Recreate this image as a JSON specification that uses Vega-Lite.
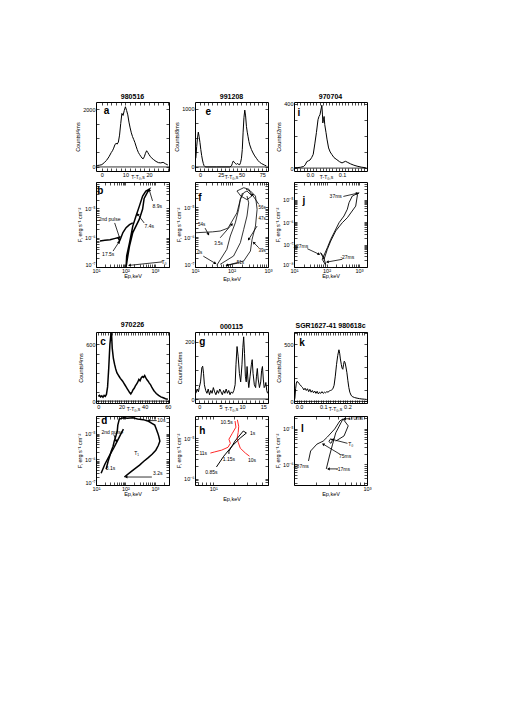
{
"$schema": "https://vega.github.io/schema/vega-lite/v6.json",
"background": "white",
"padding": {"left": 75, "top": 92, "right": 0, "bottom": 0},
"columns": 3,
"spacing": {"row": 0, "column": 26},
"bounds": "flush",
"config": {
  "font": "Liberation Sans",
  "view": {"stroke": "black", "strokeWidth": 1},
  "axis": {"grid": false, "domain": false, "tickSize": -3, "tickColor": "black", "tickWidth": 0.7, "labelPadding": 4, "labelFontSize": 5.5, "labelColor": "black", "labelFont": "Liberation Sans", "titleFont": "Liberation Sans", "titleFontSize": 5.5, "titleFontWeight": "normal", "titleColor": "black", "titlePadding": 2, "labelFlush": false, "labelOverlap": false},
  "title": {"fontSize": 7, "fontWeight": "bold", "offset": 2, "font": "Liberation Sans", "color": "black"},
  "text": {"font": "Liberation Sans", "color": "black"}
},
"datasets": {
  "a": [{"t":-2,"c":50},{"t":-1,"c":60},{"t":0,"c":80},{"t":1,"c":150},{"t":2,"c":230},{"t":3,"c":350},{"t":4,"c":500},{"t":4.5,"c":560},{"t":5,"c":650},{"t":5.5,"c":760},{"t":6,"c":820},{"t":6.5,"c":790},{"t":7,"c":860},{"t":7.5,"c":1100},{"t":8,"c":1500},{"t":8.5,"c":1850},{"t":9,"c":1780},{"t":9.5,"c":1950},{"t":10,"c":2080},{"t":10.5,"c":1950},{"t":11,"c":1800},{"t":11.5,"c":1550},{"t":12,"c":1350},{"t":12.5,"c":1180},{"t":13,"c":1050},{"t":13.5,"c":950},{"t":14,"c":850},{"t":14.5,"c":720},{"t":15,"c":600},{"t":15.5,"c":500},{"t":16,"c":430},{"t":16.5,"c":370},{"t":17,"c":310},{"t":17.5,"c":280},{"t":18,"c":350},{"t":18.5,"c":470},{"t":19,"c":560},{"t":19.5,"c":500},{"t":20,"c":430},{"t":20.5,"c":370},{"t":21,"c":320},{"t":22,"c":250},{"t":23,"c":190},{"t":24,"c":150},{"t":25,"c":140},{"t":26,"c":160},{"t":27,"c":110},{"t":28,"c":70}],
  "e": [{"t":-5,"c":150},{"t":-4,"c":350},{"t":-3,"c":500},{"t":-2,"c":600},{"t":-1,"c":520},{"t":0,"c":420},{"t":1,"c":300},{"t":2,"c":200},{"t":3,"c":120},{"t":4,"c":60},{"t":5,"c":20},{"t":6,"c":5},{"t":7,"c":0},{"t":20,"c":0},{"t":36,"c":0},{"t":38,"c":20},{"t":39,"c":60},{"t":40,"c":100},{"t":41,"c":90},{"t":42,"c":70},{"t":43,"c":55},{"t":44,"c":45},{"t":45,"c":60},{"t":46,"c":50},{"t":47,"c":40},{"t":48,"c":40},{"t":49,"c":80},{"t":50,"c":150},{"t":51,"c":300},{"t":52,"c":600},{"t":53,"c":850},{"t":54,"c":980},{"t":55,"c":880},{"t":56,"c":700},{"t":57,"c":600},{"t":58,"c":520},{"t":59,"c":440},{"t":60,"c":380},{"t":62,"c":300},{"t":64,"c":240},{"t":66,"c":190},{"t":68,"c":150},{"t":70,"c":110},{"t":72,"c":80},{"t":74,"c":60},{"t":76,"c":45},{"t":78,"c":30},{"t":80,"c":20}],
  "i": [{"t":-0.05,"c":2},{"t":-0.04,"c":3},{"t":-0.03,"c":5},{"t":-0.02,"c":10},{"t":-0.015,"c":20},{"t":-0.01,"c":40},{"t":-0.005,"c":45},{"t":0,"c":50},{"t":0.005,"c":65},{"t":0.01,"c":85},{"t":0.015,"c":150},{"t":0.02,"c":220},{"t":0.025,"c":300},{"t":0.028,"c":320},{"t":0.031,"c":330},{"t":0.034,"c":360},{"t":0.037,"c":390},{"t":0.039,"c":330},{"t":0.04,"c":280},{"t":0.042,"c":300},{"t":0.044,"c":320},{"t":0.046,"c":270},{"t":0.05,"c":220},{"t":0.053,"c":180},{"t":0.058,"c":125},{"t":0.063,"c":100},{"t":0.068,"c":85},{"t":0.075,"c":65},{"t":0.084,"c":52},{"t":0.092,"c":40},{"t":0.1,"c":32},{"t":0.106,"c":38},{"t":0.111,"c":42},{"t":0.118,"c":35},{"t":0.127,"c":26},{"t":0.137,"c":18},{"t":0.147,"c":12},{"t":0.16,"c":6},{"t":0.174,"c":2}],
  "c": [{"t":0,"c":50},{"t":1,"c":60},{"t":2,"c":45},{"t":3,"c":55},{"t":4,"c":40},{"t":5,"c":60},{"t":6,"c":50},{"t":7,"c":70},{"t":8,"c":150},{"t":9,"c":350},{"t":10,"c":600},{"t":11,"c":720},{"t":11.5,"c":690},{"t":12,"c":560},{"t":13,"c":450},{"t":14,"c":390},{"t":15,"c":340},{"t":16,"c":300},{"t":17,"c":280},{"t":18,"c":260},{"t":19,"c":240},{"t":20,"c":225},{"t":21,"c":210},{"t":22,"c":190},{"t":23,"c":170},{"t":24,"c":150},{"t":25,"c":130},{"t":26,"c":110},{"t":27,"c":90},{"t":28,"c":75},{"t":29,"c":95},{"t":30,"c":120},{"t":31,"c":135},{"t":32,"c":160},{"t":33,"c":180},{"t":34,"c":200},{"t":35,"c":230},{"t":36,"c":215},{"t":37,"c":245},{"t":38,"c":260},{"t":39,"c":250},{"t":40,"c":270},{"t":41,"c":245},{"t":42,"c":225},{"t":43,"c":210},{"t":44,"c":190},{"t":45,"c":175},{"t":46,"c":150},{"t":47,"c":130},{"t":48,"c":110},{"t":49,"c":95},{"t":50,"c":80},{"t":52,"c":60},{"t":54,"c":45},{"t":56,"c":35},{"t":58,"c":25},{"t":60,"c":20}],
  "g": [{"t":-0.8,"c":20},{"t":-0.5,"c":35},{"t":-0.2,"c":25},{"t":0,"c":40},{"t":0.3,"c":60},{"t":0.6,"c":110},{"t":0.8,"c":115},{"t":1,"c":90},{"t":1.2,"c":50},{"t":1.5,"c":30},{"t":1.8,"c":20},{"t":2.1,"c":35},{"t":2.4,"c":15},{"t":2.7,"c":30},{"t":3,"c":20},{"t":3.3,"c":40},{"t":3.6,"c":25},{"t":3.9,"c":15},{"t":4.2,"c":30},{"t":4.5,"c":20},{"t":4.8,"c":35},{"t":5.1,"c":25},{"t":5.4,"c":15},{"t":5.7,"c":30},{"t":6,"c":20},{"t":6.3,"c":35},{"t":6.6,"c":20},{"t":6.9,"c":30},{"t":7.2,"c":15},{"t":7.5,"c":25},{"t":7.8,"c":20},{"t":8.1,"c":30},{"t":8.4,"c":50},{"t":8.6,"c":120},{"t":8.85,"c":184},{"t":9.1,"c":150},{"t":9.4,"c":90},{"t":9.7,"c":60},{"t":10,"c":120},{"t":10.2,"c":180},{"t":10.4,"c":218},{"t":10.6,"c":160},{"t":10.8,"c":80},{"t":11,"c":60},{"t":11.2,"c":114},{"t":11.4,"c":70},{"t":11.6,"c":40},{"t":11.9,"c":80},{"t":12.2,"c":120},{"t":12.4,"c":138},{"t":12.6,"c":90},{"t":12.9,"c":50},{"t":13.2,"c":40},{"t":13.4,"c":80},{"t":13.6,"c":107},{"t":13.8,"c":70},{"t":14.1,"c":40},{"t":14.4,"c":60},{"t":14.6,"c":100},{"t":14.8,"c":114},{"t":15,"c":70},{"t":15.2,"c":40},{"t":15.4,"c":45},{"t":15.6,"c":58},{"t":15.8,"c":30},{"t":16,"c":20}],
  "k": [{"t":-0.02,"c":0},{"t":-0.017,"c":30},{"t":-0.014,"c":110},{"t":-0.011,"c":160},{"t":-0.008,"c":175},{"t":-0.005,"c":170},{"t":0,"c":155},{"t":0.005,"c":145},{"t":0.01,"c":130},{"t":0.015,"c":120},{"t":0.02,"c":100},{"t":0.025,"c":115},{"t":0.03,"c":95},{"t":0.035,"c":110},{"t":0.04,"c":85},{"t":0.045,"c":105},{"t":0.05,"c":80},{"t":0.055,"c":95},{"t":0.06,"c":75},{"t":0.065,"c":90},{"t":0.07,"c":70},{"t":0.075,"c":88},{"t":0.08,"c":65},{"t":0.085,"c":80},{"t":0.09,"c":70},{"t":0.095,"c":85},{"t":0.1,"c":70},{"t":0.105,"c":80},{"t":0.11,"c":75},{"t":0.115,"c":85},{"t":0.12,"c":80},{"t":0.125,"c":90},{"t":0.13,"c":95},{"t":0.135,"c":100},{"t":0.14,"c":110},{"t":0.145,"c":140},{"t":0.15,"c":220},{"t":0.155,"c":320},{"t":0.16,"c":400},{"t":0.165,"c":450},{"t":0.168,"c":420},{"t":0.171,"c":370},{"t":0.175,"c":320},{"t":0.178,"c":290},{"t":0.181,"c":280},{"t":0.184,"c":320},{"t":0.187,"c":350},{"t":0.19,"c":340},{"t":0.194,"c":300},{"t":0.198,"c":250},{"t":0.202,"c":180},{"t":0.206,"c":120},{"t":0.21,"c":80},{"t":0.215,"c":55},{"t":0.22,"c":42},{"t":0.23,"c":33},{"t":0.24,"c":28},{"t":0.25,"c":24},{"t":0.26,"c":21},{"t":0.27,"c":19},{"t":0.28,"c":17}],
  "bL": [{"seg":"m","o":1,"ep":105,"f":1.0e-7},{"seg":"m","o":2,"ep":110,"f":2.4e-7},{"seg":"m","o":3,"ep":137,"f":6.7e-7},{"seg":"m","o":4,"ep":177,"f":2.5e-6},{"seg":"m","o":5,"ep":228,"f":5.5e-6},{"seg":"m","o":6,"ep":296,"f":1.2e-5},{"seg":"m","o":7,"ep":382,"f":2.65e-5},{"seg":"m","o":8,"ep":492,"f":3.9e-5},{"seg":"m","o":9,"ep":640,"f":4.5e-5},{"seg":"m","o":10,"ep":560,"f":3.6e-5},{"seg":"m","o":11,"ep":430,"f":2.2e-5},{"seg":"m","o":12,"ep":382,"f":9.5e-6},{"seg":"m","o":13,"ep":296,"f":4.3e-6},{"seg":"m","o":14,"ep":177,"f":1.5e-6},{"seg":"m","o":15,"ep":137,"f":5.2e-7},{"seg":"m","o":16,"ep":115,"f":1.83e-7},{"seg":"m","o":17,"ep":105,"f":1.0e-7},{"seg":"p","o":1,"ep":13.6,"f":7.7e-7},{"seg":"p","o":2,"ep":20,"f":8.2e-7},{"seg":"p","o":3,"ep":30,"f":8.6e-7},{"seg":"p","o":4,"ep":45,"f":9.5e-7},{"seg":"p","o":5,"ep":56,"f":1.0e-6},{"seg":"p","o":6,"ep":63,"f":8.0e-7},{"seg":"p","o":7,"ep":58,"f":6.5e-7},{"seg":"p","o":8,"ep":66,"f":8.5e-7},{"seg":"p","o":9,"ep":82,"f":1.5e-6},{"seg":"p","o":10,"ep":105,"f":2.2e-6},{"seg":"p","o":11,"ep":137,"f":2.8e-6},{"seg":"p","o":12,"ep":177,"f":3.2e-6}],
  "bN": [{"label":"8.9s","ep":1200,"f":1.2e-5},{"label":"7.4s","ep":640,"f":2.5e-6},{"label":"2nd pulse","ep":29,"f":4.4e-6},{"label":"17.5s","ep":26,"f":2.7e-7},{"label":"T₀","ep":2030,"f":1.5e-7}],
  "bA": [{"ep":830,"f":1.8e-5,"ep2":640,"f2":4.3e-5},{"ep":430,"f":3.2e-6,"ep2":260,"f2":6.3e-6},{"ep":43,"f":3.2e-6,"ep2":63,"f2":1.0e-6},{"ep":38,"f":3.5e-7,"ep2":60,"f2":7.1e-7},{"ep":1800,"f":1.5e-7,"ep2":137,"f2":1.14e-7}],
  "fL": [{"seg":"A","o":1,"ep":10,"f":1.4e-6},{"seg":"A","o":2,"ep":30,"f":1.5e-6},{"seg":"A","o":3,"ep":49,"f":1.6e-6},{"seg":"A","o":4,"ep":80,"f":2.0e-6},{"seg":"A","o":5,"ep":141,"f":6.5e-6},{"seg":"A","o":6,"ep":175,"f":1.84e-5},{"seg":"A","o":7,"ep":216,"f":3.06e-5},{"seg":"A","o":8,"ep":266,"f":3.5e-5},{"seg":"A","o":9,"ep":366,"f":2.37e-5},{"seg":"B","o":1,"ep":39.5,"f":1.14e-7},{"seg":"B","o":2,"ep":74.6,"f":3.9e-7},{"seg":"B","o":3,"ep":92.7,"f":1.09e-6},{"seg":"B","o":4,"ep":127,"f":3.0e-6},{"seg":"B","o":5,"ep":157,"f":8.5e-6},{"seg":"B","o":6,"ep":175,"f":1.84e-5},{"seg":"B","o":7,"ep":200,"f":3.0e-5},{"seg":"C","o":1,"ep":49,"f":1.23e-7},{"seg":"C","o":2,"ep":114,"f":2.33e-7},{"seg":"C","o":3,"ep":175,"f":6.5e-7},{"seg":"C","o":4,"ep":216,"f":1.82e-6},{"seg":"C","o":5,"ep":266,"f":5.1e-6},{"seg":"C","o":6,"ep":296,"f":1.41e-5},{"seg":"C","o":7,"ep":266,"f":2.37e-5},{"seg":"D","o":1,"ep":74.6,"f":1.14e-7},{"seg":"D","o":2,"ep":216,"f":1.59e-7},{"seg":"D","o":3,"ep":330,"f":3.43e-7},{"seg":"D","o":4,"ep":366,"f":8.4e-7},{"seg":"D","o":5,"ep":454,"f":2.35e-6},{"seg":"D","o":6,"ep":503,"f":8.5e-6},{"seg":"D","o":7,"ep":454,"f":2.37e-5},{"seg":"D","o":8,"ep":330,"f":3.5e-5},{"seg":"D","o":9,"ep":250,"f":4.0e-5},{"seg":"L","o":1,"ep":141,"f":3.5e-5},{"seg":"L","o":2,"ep":216,"f":4.5e-5},{"seg":"L","o":3,"ep":300,"f":4.0e-5},{"seg":"L","o":4,"ep":360,"f":2.37e-5},{"seg":"L","o":5,"ep":266,"f":1.8e-5},{"seg":"L","o":6,"ep":180,"f":2.37e-5},{"seg":"L","o":7,"ep":141,"f":3.5e-5}],
  "fN": [{"label":"54s","ep":15.2,"f":2.5e-6},{"label":"3.5s","ep":44,"f":5.7e-7},{"label":"0s","ep":13.7,"f":3.0e-7},{"label":"51s","ep":175,"f":1.33e-7},{"label":"56s","ep":692,"f":9.6e-6},{"label":"47s","ep":692,"f":3.9e-6},{"label":"39s","ep":692,"f":3.43e-7}],
  "fA": [{"ep":18.9,"f":2.0e-6,"ep2":23.3,"f2":1.25e-6},{"ep":49,"f":9.5e-7,"ep2":103,"f2":2.7e-6},{"ep":16.9,"f":2.3e-7,"ep2":35.7,"f2":1.33e-7},{"ep":141,"f":1.33e-7,"ep2":74.6,"f2":1.14e-7},{"ep":560,"f":1.25e-5,"ep2":366,"f2":2.7e-5},{"ep":503,"f":2.35e-6,"ep2":296,"f2":8.4e-7},{"ep":560,"f":4.4e-7,"ep2":408,"f2":6.5e-7}],
  "jL": [{"seg":"m","o":1,"ep":94.5,"f":1.19e-8},{"seg":"m","o":2,"ep":74,"f":2.2e-8},{"seg":"m","o":3,"ep":106,"f":7.2e-8},{"seg":"m","o":4,"ep":135,"f":1.7e-7},{"seg":"m","o":5,"ep":170,"f":3.3e-7},{"seg":"m","o":6,"ep":243,"f":9.3e-7},{"seg":"m","o":7,"ep":345,"f":1.85e-6},{"seg":"m","o":8,"ep":437,"f":3.7e-6},{"seg":"m","o":9,"ep":492,"f":7.2e-6},{"seg":"m","o":10,"ep":622,"f":1.43e-5},{"seg":"m","o":11,"ep":1000,"f":2.0e-5},{"seg":"m","o":12,"ep":900,"f":1.7e-5},{"seg":"m","o":13,"ep":791,"f":5.1e-6},{"seg":"m","o":14,"ep":437,"f":1.55e-6},{"seg":"m","o":15,"ep":306,"f":9.3e-7},{"seg":"m","o":16,"ep":192,"f":4.0e-7},{"seg":"m","o":17,"ep":135,"f":1.43e-7},{"seg":"m","o":18,"ep":106,"f":6.1e-8},{"seg":"m","o":19,"ep":84,"f":2.2e-8},{"seg":"m","o":20,"ep":66,"f":4.3e-8},{"seg":"m","o":21,"ep":80,"f":3.0e-8},{"seg":"m","o":22,"ep":94.5,"f":1.32e-8}],
  "jN": [{"label":"37ms","ep":192,"f":1.43e-5},{"label":"127ms","ep":16,"f":8.5e-8},{"label":"-27ms","ep":437,"f":2.8e-8}],
  "jA": [{"ep":330,"f":1.37e-5,"ep2":885,"f2":1.9e-5},{"ep":25.7,"f":6.5e-8,"ep2":58.8,"f2":3.7e-8},{"ep":306,"f":2.2e-8,"ep2":106,"f2":1.67e-8}],
  "dL": [{"seg":"m","o":1,"ep":22.1,"f":4.2e-7},{"seg":"m","o":2,"ep":25.9,"f":8.7e-7},{"seg":"m","o":3,"ep":29,"f":1.3e-6},{"seg":"m","o":4,"ep":32.8,"f":2.1e-6},{"seg":"m","o":5,"ep":38,"f":3.3e-6},{"seg":"m","o":6,"ep":41.6,"f":5.2e-6},{"seg":"m","o":7,"ep":47,"f":8.0e-6},{"seg":"m","o":8,"ep":52.7,"f":1.29e-5},{"seg":"m","o":9,"ep":55,"f":2.2e-5},{"seg":"m","o":10,"ep":61.8,"f":3.8e-5},{"seg":"m","o":11,"ep":85,"f":4.3e-5},{"seg":"m","o":12,"ep":116,"f":4.1e-5},{"seg":"m","o":13,"ep":180,"f":4.3e-5},{"seg":"m","o":14,"ep":257,"f":3.8e-5},{"seg":"m","o":15,"ep":400,"f":3.6e-5},{"seg":"m","o":16,"ep":568,"f":3.2e-5},{"seg":"m","o":17,"ep":988,"f":2.2e-5},{"seg":"m","o":18,"ep":1100,"f":1.6e-5},{"seg":"m","o":19,"ep":1250,"f":1.07e-5},{"seg":"m","o":20,"ep":1350,"f":8.0e-6},{"seg":"m","o":21,"ep":1470,"f":5.2e-6},{"seg":"m","o":22,"ep":1300,"f":3.5e-6},{"seg":"m","o":23,"ep":1070,"f":2.3e-6},{"seg":"m","o":24,"ep":800,"f":1.6e-6},{"seg":"m","o":25,"ep":568,"f":1.13e-6},{"seg":"m","o":26,"ep":420,"f":8.5e-7},{"seg":"m","o":27,"ep":301,"f":6.0e-7},{"seg":"m","o":28,"ep":200,"f":4.2e-7},{"seg":"m","o":29,"ep":148,"f":3.2e-7},{"seg":"m","o":30,"ep":91.8,"f":2.05e-7},{"seg":"p","o":1,"ep":14.9,"f":2.9e-7},{"seg":"p","o":2,"ep":20,"f":6.5e-7},{"seg":"p","o":3,"ep":28,"f":1.36e-6},{"seg":"p","o":4,"ep":40,"f":2.8e-6},{"seg":"p","o":5,"ep":52.7,"f":5.2e-6},{"seg":"p","o":6,"ep":70,"f":1.0e-5},{"seg":"p","o":7,"ep":85,"f":1.54e-5}],
  "dN": [{"label":"10s","ep":1650,"f":3.4e-5},{"label":"2nd pulse","ep":36,"f":1.15e-5},{"label":"3.1s","ep":31,"f":4.6e-7},{"label":"3.2s","ep":1250,"f":3.0e-7},{"label":"T₁","ep":238,"f":1.78e-6}],
  "dA": [{"ep":1150,"f":3.3e-5,"ep2":620,"f2":3.3e-5},{"ep":40,"f":9.5e-6,"ep2":49,"f2":5.2e-6},{"ep":786,"f":2.05e-7,"ep2":105,"f2":2.05e-7}],
  "hL": [{"seg":"r1","o":1,"ep":20.4,"f":2.7e-5},{"seg":"r1","o":2,"ep":21,"f":1.9e-5},{"seg":"r1","o":3,"ep":18.5,"f":1.3e-5},{"seg":"r1","o":4,"ep":16.7,"f":9.5e-6},{"seg":"r1","o":5,"ep":17.5,"f":7.5e-6},{"seg":"r1","o":6,"ep":16.2,"f":6.0e-6},{"seg":"r1","o":7,"ep":13.2,"f":5.1e-6},{"seg":"r1","o":8,"ep":10.5,"f":4.6e-6},{"seg":"r1","o":9,"ep":9.1,"f":4.3e-6},{"seg":"r2","o":1,"ep":22,"f":2.9e-5},{"seg":"r2","o":2,"ep":23,"f":2.0e-5},{"seg":"r2","o":3,"ep":22.6,"f":1.4e-5},{"seg":"r2","o":4,"ep":21.8,"f":1.0e-5},{"seg":"r2","o":5,"ep":22.6,"f":8.0e-6},{"seg":"r2","o":6,"ep":24.2,"f":5.7e-6},{"seg":"r2","o":7,"ep":28.6,"f":4.3e-6},{"seg":"r2","o":8,"ep":32.7,"f":3.6e-6},{"seg":"k","o":1,"ep":11.1,"f":1.94e-6},{"seg":"k","o":2,"ep":14.1,"f":3.6e-6},{"seg":"k","o":3,"ep":18.5,"f":6.4e-6},{"seg":"k","o":4,"ep":24.2,"f":1.02e-5},{"seg":"k","o":5,"ep":29.6,"f":1.36e-5},{"seg":"k","o":6,"ep":26.7,"f":1.52e-5},{"seg":"k","o":7,"ep":20.4,"f":8.6e-6},{"seg":"k","o":8,"ep":16.7,"f":4.8e-6},{"seg":"k","o":9,"ep":16.7,"f":4.1e-6}],
  "hN": [{"label":"10.5s","ep":15.5,"f":2.5e-5},{"label":"1s","ep":36.2,"f":1.36e-5},{"label":"11s","ep":7.2,"f":4.3e-6},{"label":"10s","ep":35.5,"f":2.9e-6},{"label":"1.15s","ep":16.7,"f":3.0e-6},{"label":"0.85s","ep":9.4,"f":1.45e-6}],
  "lL": [{"seg":"a","o":1,"ep":158,"f":1.24e-6},{"seg":"a","o":2,"ep":169,"f":2.37e-6},{"seg":"a","o":3,"ep":206,"f":3.7e-6},{"seg":"a","o":4,"ep":251,"f":4.5e-6},{"seg":"a","o":5,"ep":287,"f":5.9e-6},{"seg":"a","o":6,"ep":361,"f":9.9e-6},{"seg":"a","o":7,"ep":425,"f":1.67e-5},{"seg":"a","o":8,"ep":469,"f":1.9e-5},{"seg":"a","o":9,"ep":553,"f":1.21e-5},{"seg":"a","o":10,"ep":485,"f":6.3e-6},{"seg":"a","o":11,"ep":373,"f":4.5e-6},{"seg":"b","o":1,"ep":277,"f":7.4e-7},{"seg":"b","o":2,"ep":306,"f":1.71e-6},{"seg":"b","o":3,"ep":338,"f":3.7e-6},{"seg":"b","o":4,"ep":373,"f":7.7e-6},{"seg":"b","o":5,"ep":439,"f":1.47e-5},{"seg":"b","o":6,"ep":469,"f":1.9e-5},{"seg":"c","o":1,"ep":300,"f":4.4e-6},{"seg":"c","o":2,"ep":320,"f":5.3e-6},{"seg":"c","o":3,"ep":335,"f":4.6e-6},{"seg":"c","o":4,"ep":320,"f":3.9e-6},{"seg":"c","o":5,"ep":300,"f":4.4e-6}],
  "lN": [{"label":"170ms","ep":696,"f":2.03e-5},{"label":"T₀","ep":600,"f":3.7e-6},{"label":"75ms","ep":501,"f":1.71e-6},{"label":"287ms","ep":126,"f":9.0e-7},{"label":"-17ms","ep":469,"f":7.4e-7}],
  "lA": [{"ep":590,"f":1.95e-5,"ep2":490,"f2":1.9e-5},{"ep":540,"f":3.9e-6,"ep2":338,"f2":5.0e-6},{"ep":430,"f":1.9e-6,"ep2":251,"f2":3.7e-6},{"ep":400,"f":7.4e-7,"ep2":296,"f2":7.4e-7}]
},
"concat": [
 {"width": 73, "height": 69, "title": "980516",
  "layer": [
   {"data": {"name": "a"}, "mark": {"type": "line", "color": "black", "strokeWidth": 1, "clip": true},
    "encoding": {
     "x": {"field": "t", "type": "quantitative", "scale": {"domain": [-2.5, 28.5], "nice": false, "zero": false}, "axis": {"values": [0,2,4,6,8,10,12,14,16,18,20,22,24,26,28], "labelExpr": "datum.value%10==0?datum.label:''", "title": "T-T₀,s", "titleY": 3, "titleX": 41.5, "titleFontSize": 5, "titleBaseline": "top"}},
     "y": {"field": "c", "type": "quantitative", "scale": {"domain": [-140, 2245], "nice": false, "zero": false}, "axis": {"values": [0,500,1000,1500,2000], "labelExpr": "datum.value==0||datum.value==2000?format(datum.value,'d'):''", "title": "Counts/4ms"}}}},
   {"data": {"name": "a"}, "mark": {"type": "point", "opacity": 0},
    "encoding": {
     "x": {"field": "t", "type": "quantitative", "axis": {"orient": "top", "labels": false, "title": null, "values": [0,2,4,6,8,10,12,14,16,18,20,22,24,26,28]}},
     "y": {"field": "c", "type": "quantitative", "axis": {"orient": "right", "labels": false, "title": null, "values": [0,500,1000,1500,2000]}}}},
   {"data": {"values": [{}]}, "mark": {"type": "rule", "color": "black", "strokeWidth": 0.8}, "encoding": {"y": {"datum": 0, "axis": null}}},
   {"data": {"values": [{}]}, "mark": {"type": "text", "fontSize": 10, "fontWeight": "bold"}, "encoding": {"x": {"datum": 2, "axis": null}, "y": {"datum": 1950, "axis": null}, "text": {"value": "a"}}}
  ],
  "resolve": {"axis": {"x": "independent", "y": "independent"}}},
 {"width": 73, "height": 69, "title": "991208",
  "layer": [
   {"data": {"name": "e"}, "mark": {"type": "line", "color": "black", "strokeWidth": 1, "clip": true},
    "encoding": {
     "x": {"field": "t", "type": "quantitative", "scale": {"domain": [-6, 82], "nice": false, "zero": false}, "axis": {"values": [0,5,10,15,20,25,30,35,40,45,50,55,60,65,70,75,80], "labelExpr": "datum.value%25==0?datum.label:''", "title": "T-T₀,s", "titleY": 3, "titleX": 36, "titleFontSize": 5, "titleBaseline": "top"}},
     "y": {"field": "c", "type": "quantitative", "scale": {"domain": [-70, 1120], "nice": false, "zero": false}, "axis": {"values": [0,250,500,750,1000], "labelExpr": "datum.value==0||datum.value==1000?format(datum.value,'d'):''", "title": "Counts/8ms"}}}},
   {"data": {"name": "e"}, "mark": {"type": "point", "opacity": 0},
    "encoding": {
     "x": {"field": "t", "type": "quantitative", "axis": {"orient": "top", "labels": false, "title": null, "values": [0,5,10,15,20,25,30,35,40,45,50,55,60,65,70,75,80]}},
     "y": {"field": "c", "type": "quantitative", "axis": {"orient": "right", "labels": false, "title": null, "values": [0,250,500,750,1000]}}}},
   {"data": {"values": [{}]}, "mark": {"type": "rule", "color": "black", "strokeWidth": 0.8}, "encoding": {"y": {"datum": 0, "axis": null}}},
   {"data": {"values": [{}]}, "mark": {"type": "text", "fontSize": 10, "fontWeight": "bold"}, "encoding": {"x": {"datum": 10, "axis": null}, "y": {"datum": 950, "axis": null}, "text": {"value": "e"}}}
  ],
  "resolve": {"axis": {"x": "independent", "y": "independent"}}},
 {"width": 73, "height": 69, "title": "970704",
  "layer": [
   {"data": {"name": "i"}, "mark": {"type": "line", "color": "black", "strokeWidth": 1, "clip": true},
    "encoding": {
     "x": {"field": "t", "type": "quantitative", "scale": {"domain": [-0.05, 0.178], "nice": false, "zero": false}, "axis": {"values": [-0.04,-0.03,-0.02,-0.01,0,0.01,0.02,0.03,0.04,0.05,0.06,0.07,0.08,0.09,0.1,0.11,0.12,0.13,0.14,0.15,0.16,0.17], "labelExpr": "abs(datum.value)<1e-6||abs(datum.value-0.1)<1e-6?format(datum.value,'.1f'):''", "title": "T-T₀,s", "titleY": 3, "titleX": 32, "titleFontSize": 5, "titleBaseline": "top"}},
     "y": {"field": "c", "type": "quantitative", "scale": {"domain": [-18, 410], "nice": false, "zero": false}, "axis": {"values": [0,100,200,300,400], "labelExpr": "datum.value==0||datum.value==400?format(datum.value,'d'):''", "title": "Counts/2ms"}}}},
   {"data": {"name": "i"}, "mark": {"type": "point", "opacity": 0},
    "encoding": {
     "x": {"field": "t", "type": "quantitative", "axis": {"orient": "top", "labels": false, "title": null, "values": [-0.04,-0.03,-0.02,-0.01,0,0.01,0.02,0.03,0.04,0.05,0.06,0.07,0.08,0.09,0.1,0.11,0.12,0.13,0.14,0.15,0.16,0.17]}},
     "y": {"field": "c", "type": "quantitative", "axis": {"orient": "right", "labels": false, "title": null, "values": [0,100,200,300,400]}}}},
   {"data": {"values": [{}]}, "mark": {"type": "rule", "color": "black", "strokeWidth": 0.8}, "encoding": {"y": {"datum": 0, "axis": null}}},
   {"data": {"values": [{}]}, "mark": {"type": "text", "fontSize": 10, "fontWeight": "bold"}, "encoding": {"x": {"datum": -0.035, "axis": null}, "y": {"datum": 340, "axis": null}, "text": {"value": "i"}}}
  ],
  "resolve": {"axis": {"x": "independent", "y": "independent"}}},
 {"width": 73, "height": 11, "data": {"values": []}, "mark": {"type": "point", "opacity": 0}, "view": {"stroke": null}},
 {"width": 73, "height": 11, "data": {"values": []}, "mark": {"type": "point", "opacity": 0}, "view": {"stroke": null}},
 {"width": 73, "height": 11, "data": {"values": []}, "mark": {"type": "point", "opacity": 0}, "view": {"stroke": null}},
 {"width": 73, "height": 85,
  "layer": [
   {"data": {"name": "bL"}, "mark": {"type": "line", "color": "black", "strokeWidth": 1.5, "clip": true},
    "encoding": {
     "x": {"field": "ep", "type": "quantitative", "scale": {"type": "log", "domain": [10, 3000], "nice": false}, "axis": {"values": [10,20,30,40,50,60,70,80,90,100,200,300,400,500,600,700,800,900,1000,2000,3000], "labelExpr": "abs(log(datum.value)/LN10-round(log(datum.value)/LN10))<0.01?'10'+replace(replace(replace(replace(replace(replace(replace(replace(replace(''+round(log(datum.value)/LN10),'-','⁻'),'1','¹'),'2','²'),'3','³'),'4','⁴'),'5','⁵'),'6','⁶'),'7','⁷'),'8','⁸'):''", "title": "Ep,keV", "titleY": 6, "titleBaseline": "top"}},
     "y": {"field": "f", "type": "quantitative", "scale": {"type": "log", "domain": [1e-7, 8e-5], "nice": false}, "axis": {"values": [1e-7,2e-7,3e-7,4e-7,5e-7,6e-7,7e-7,8e-7,9e-7,1e-6,2e-6,3e-6,4e-6,5e-6,6e-6,7e-6,8e-6,9e-6,1e-5,2e-5,3e-5,4e-5,5e-5,6e-5,7e-5], "labelFlush": true, "labelExpr": "abs(log(datum.value)/LN10-round(log(datum.value)/LN10))<0.01?'10'+replace(replace(replace(replace(replace(replace(replace(replace(replace(''+round(log(datum.value)/LN10),'-','⁻'),'1','¹'),'2','²'),'3','³'),'4','⁴'),'5','⁵'),'6','⁶'),'7','⁷'),'8','⁸'):''", "title": "F, erg s⁻¹ cm⁻²"}},
     "detail": {"field": "seg"}, "order": {"field": "o"}}},
   {"data": {"name": "bL"}, "mark": {"type": "point", "opacity": 0},
    "encoding": {
     "x": {"field": "ep", "type": "quantitative", "axis": {"orient": "top", "labels": false, "title": null, "values": [10,20,30,40,50,60,70,80,90,100,200,300,400,500,600,700,800,900,1000,2000,3000]}},
     "y": {"field": "f", "type": "quantitative", "axis": {"orient": "right", "labels": false, "title": null, "values": [1e-7,2e-7,3e-7,4e-7,5e-7,6e-7,7e-7,8e-7,9e-7,1e-6,2e-6,3e-6,4e-6,5e-6,6e-6,7e-6,8e-6,9e-6,1e-5,2e-5,3e-5,4e-5,5e-5,6e-5,7e-5]}}}},
   {"data": {"name": "bA"}, "mark": {"type": "rule", "color": "black", "strokeWidth": 0.8}, "encoding": {"x": {"field": "ep", "type": "quantitative", "axis": null}, "y": {"field": "f", "type": "quantitative", "axis": null}, "x2": {"field": "ep2"}, "y2": {"field": "f2"}}},
   {"data": {"name": "bA"}, "transform": [{"calculate": "(atan2(-(log(datum.f2)-log(datum.f))*29.28, (log(datum.ep2)-log(datum.ep))*29.47)*180/PI+360)%360", "as": "ang"}], "mark": {"type": "point", "shape": "triangle-right", "filled": true, "color": "black", "opacity": 1, "size": 10}, "encoding": {"x": {"field": "ep2", "type": "quantitative", "axis": null}, "y": {"field": "f2", "type": "quantitative", "axis": null}, "angle": {"field": "ang", "type": "quantitative", "scale": null}}},
   {"data": {"name": "bN"}, "mark": {"type": "text", "fontSize": 5}, "encoding": {"x": {"field": "ep", "type": "quantitative", "axis": null}, "y": {"field": "f", "type": "quantitative", "axis": null}, "text": {"field": "label"}}},
   {"data": {"values": [{}]}, "mark": {"type": "text", "fontSize": 10, "fontWeight": "bold"}, "encoding": {"x": {"datum": 14, "axis": null}, "y": {"datum": 3.9e-5, "axis": null}, "text": {"value": "b"}}}
  ],
  "resolve": {"axis": {"x": "independent", "y": "independent"}}},
 {"width": 73, "height": 85,
  "layer": [
   {"data": {"name": "fL"}, "mark": {"type": "line", "color": "black", "strokeWidth": 0.8, "clip": true},
    "encoding": {
     "x": {"field": "ep", "type": "quantitative", "scale": {"type": "log", "domain": [10, 1000], "nice": false}, "axis": {"values": [10,20,30,40,50,60,70,80,90,100,200,300,400,500,600,700,800,900,1000], "labelExpr": "abs(log(datum.value)/LN10-round(log(datum.value)/LN10))<0.01?'10'+replace(replace(replace(replace(replace(replace(replace(replace(replace(''+round(log(datum.value)/LN10),'-','⁻'),'1','¹'),'2','²'),'3','³'),'4','⁴'),'5','⁵'),'6','⁶'),'7','⁷'),'8','⁸'):''", "title": "Ep,keV", "titleY": 9, "titleBaseline": "top"}},
     "y": {"field": "f", "type": "quantitative", "scale": {"type": "log", "domain": [1e-7, 7e-5], "nice": false}, "axis": {"values": [1e-7,2e-7,3e-7,4e-7,5e-7,6e-7,7e-7,8e-7,9e-7,1e-6,2e-6,3e-6,4e-6,5e-6,6e-6,7e-6,8e-6,9e-6,1e-5,2e-5,3e-5,4e-5,5e-5,6e-5], "labelFlush": true, "labelExpr": "abs(log(datum.value)/LN10-round(log(datum.value)/LN10))<0.01?'10'+replace(replace(replace(replace(replace(replace(replace(replace(replace(''+round(log(datum.value)/LN10),'-','⁻'),'1','¹'),'2','²'),'3','³'),'4','⁴'),'5','⁵'),'6','⁶'),'7','⁷'),'8','⁸'):''", "title": "F, erg s⁻¹ cm⁻²"}},
     "detail": {"field": "seg"}, "order": {"field": "o"}}},
   {"data": {"name": "fL"}, "mark": {"type": "point", "opacity": 0},
    "encoding": {
     "x": {"field": "ep", "type": "quantitative", "axis": {"orient": "top", "labels": false, "title": null, "values": [10,20,30,40,50,60,70,80,90,100,200,300,400,500,600,700,800,900,1000]}},
     "y": {"field": "f", "type": "quantitative", "axis": {"orient": "right", "labels": false, "title": null, "values": [1e-7,2e-7,3e-7,4e-7,5e-7,6e-7,7e-7,8e-7,9e-7,1e-6,2e-6,3e-6,4e-6,5e-6,6e-6,7e-6,8e-6,9e-6,1e-5,2e-5,3e-5,4e-5,5e-5,6e-5]}}}},
   {"data": {"name": "fA"}, "mark": {"type": "rule", "color": "black", "strokeWidth": 0.8}, "encoding": {"x": {"field": "ep", "type": "quantitative", "axis": null}, "y": {"field": "f", "type": "quantitative", "axis": null}, "x2": {"field": "ep2"}, "y2": {"field": "f2"}}},
   {"data": {"name": "fA"}, "transform": [{"calculate": "(atan2(-(log(datum.f2)-log(datum.f))*29.88, (log(datum.ep2)-log(datum.ep))*36.5)*180/PI+360)%360", "as": "ang"}], "mark": {"type": "point", "shape": "triangle-right", "filled": true, "color": "black", "opacity": 1, "size": 10}, "encoding": {"x": {"field": "ep2", "type": "quantitative", "axis": null}, "y": {"field": "f2", "type": "quantitative", "axis": null}, "angle": {"field": "ang", "type": "quantitative", "scale": null}}},
   {"data": {"name": "fN"}, "mark": {"type": "text", "fontSize": 4.5}, "encoding": {"x": {"field": "ep", "type": "quantitative", "axis": null}, "y": {"field": "f", "type": "quantitative", "axis": null}, "text": {"field": "label"}}},
   {"data": {"values": [{}]}, "mark": {"type": "text", "fontSize": 10, "fontWeight": "bold"}, "encoding": {"x": {"datum": 13.7, "axis": null}, "y": {"datum": 2.1e-5, "axis": null}, "text": {"value": "f"}}}
  ],
  "resolve": {"axis": {"x": "independent", "y": "independent"}}},
 {"width": 73, "height": 85,
  "layer": [
   {"data": {"name": "jL"}, "mark": {"type": "line", "color": "black", "strokeWidth": 0.9, "clip": true},
    "encoding": {
     "x": {"field": "ep", "type": "quantitative", "scale": {"type": "log", "domain": [10, 1760], "nice": false}, "axis": {"values": [10,20,30,40,50,60,70,80,90,100,200,300,400,500,600,700,800,900,1000], "labelExpr": "abs(log(datum.value)/LN10-round(log(datum.value)/LN10))<0.01?'10'+replace(replace(replace(replace(replace(replace(replace(replace(replace(''+round(log(datum.value)/LN10),'-','⁻'),'1','¹'),'2','²'),'3','³'),'4','⁴'),'5','⁵'),'6','⁶'),'7','⁷'),'8','⁸'):''", "title": "Ep,keV", "titleY": 6, "titleBaseline": "top"}},
     "y": {"field": "f", "type": "quantitative", "scale": {"type": "log", "domain": [1e-8, 6e-5], "nice": false}, "axis": {"values": [1e-8,2e-8,3e-8,4e-8,5e-8,6e-8,7e-8,8e-8,9e-8,1e-7,2e-7,3e-7,4e-7,5e-7,6e-7,7e-7,8e-7,9e-7,1e-6,2e-6,3e-6,4e-6,5e-6,6e-6,7e-6,8e-6,9e-6,1e-5,2e-5,3e-5,4e-5,5e-5], "labelFlush": true, "labelExpr": "abs(log(datum.value)/LN10-round(log(datum.value)/LN10))<0.01?'10'+replace(replace(replace(replace(replace(replace(replace(replace(replace(''+round(log(datum.value)/LN10),'-','⁻'),'1','¹'),'2','²'),'3','³'),'4','⁴'),'5','⁵'),'6','⁶'),'7','⁷'),'8','⁸'):''", "title": "F, erg s⁻¹ cm⁻²"}},
     "detail": {"field": "seg"}, "order": {"field": "o"}}},
   {"data": {"name": "jL"}, "mark": {"type": "point", "opacity": 0},
    "encoding": {
     "x": {"field": "ep", "type": "quantitative", "axis": {"orient": "top", "labels": false, "title": null, "values": [10,20,30,40,50,60,70,80,90,100,200,300,400,500,600,700,800,900,1000]}},
     "y": {"field": "f", "type": "quantitative", "axis": {"orient": "right", "labels": false, "title": null, "values": [1e-8,2e-8,3e-8,4e-8,5e-8,6e-8,7e-8,8e-8,9e-8,1e-7,2e-7,3e-7,4e-7,5e-7,6e-7,7e-7,8e-7,9e-7,1e-6,2e-6,3e-6,4e-6,5e-6,6e-6,7e-6,8e-6,9e-6,1e-5,2e-5,3e-5,4e-5,5e-5]}}}},
   {"data": {"name": "jA"}, "mark": {"type": "rule", "color": "black", "strokeWidth": 0.8}, "encoding": {"x": {"field": "ep", "type": "quantitative", "axis": null}, "y": {"field": "f", "type": "quantitative", "axis": null}, "x2": {"field": "ep2"}, "y2": {"field": "f2"}}},
   {"data": {"name": "jA"}, "transform": [{"calculate": "(atan2(-(log(datum.f2)-log(datum.f))*22.5, (log(datum.ep2)-log(datum.ep))*32.5)*180/PI+360)%360", "as": "ang"}], "mark": {"type": "point", "shape": "triangle-right", "filled": true, "color": "black", "opacity": 1, "size": 10}, "encoding": {"x": {"field": "ep2", "type": "quantitative", "axis": null}, "y": {"field": "f2", "type": "quantitative", "axis": null}, "angle": {"field": "ang", "type": "quantitative", "scale": null}}},
   {"data": {"name": "jN"}, "mark": {"type": "text", "fontSize": 5}, "encoding": {"x": {"field": "ep", "type": "quantitative", "axis": null}, "y": {"field": "f", "type": "quantitative", "axis": null}, "text": {"field": "label"}}},
   {"data": {"values": [{}]}, "mark": {"type": "text", "fontSize": 10, "fontWeight": "bold"}, "encoding": {"x": {"datum": 20, "axis": null}, "y": {"datum": 8.6e-6, "axis": null}, "text": {"value": "j"}}}
  ],
  "resolve": {"axis": {"x": "independent", "y": "independent"}}},
 {"width": 73, "height": 65, "data": {"values": []}, "mark": {"type": "point", "opacity": 0}, "view": {"stroke": null}},
 {"width": 73, "height": 65, "data": {"values": []}, "mark": {"type": "point", "opacity": 0}, "view": {"stroke": null}},
 {"width": 73, "height": 65, "data": {"values": []}, "mark": {"type": "point", "opacity": 0}, "view": {"stroke": null}},
 {"width": 73, "height": 71, "title": "970226",
  "layer": [
   {"data": {"name": "c"}, "mark": {"type": "line", "color": "black", "strokeWidth": 1.5, "clip": true},
    "encoding": {
     "x": {"field": "t", "type": "quantitative", "scale": {"domain": [-2, 61], "nice": false, "zero": false}, "axis": {"values": [0,2,4,6,8,10,12,14,16,18,20,22,24,26,28,30,32,34,36,38,40,42,44,46,48,50,52,54,56,58,60], "labelExpr": "datum.value%20==0?datum.label:''", "title": "T-T₀,s", "titleY": 3, "titleX": 37, "titleFontSize": 5, "titleBaseline": "top"}},
     "y": {"field": "c", "type": "quantitative", "scale": {"domain": [-20, 730], "nice": false, "zero": false}, "axis": {"values": [0,100,200,300,400,500,600], "labelExpr": "datum.value==0||datum.value==600?format(datum.value,'d'):''", "title": "Counts/4ms"}}}},
   {"data": {"name": "c"}, "mark": {"type": "point", "opacity": 0},
    "encoding": {
     "x": {"field": "t", "type": "quantitative", "axis": {"orient": "top", "labels": false, "title": null, "values": [0,2,4,6,8,10,12,14,16,18,20,22,24,26,28,30,32,34,36,38,40,42,44,46,48,50,52,54,56,58,60]}},
     "y": {"field": "c", "type": "quantitative", "axis": {"orient": "right", "labels": false, "title": null, "values": [0,100,200,300,400,500,600]}}}},
   {"data": {"values": [{}]}, "mark": {"type": "rule", "color": "black", "strokeWidth": 0.8}, "encoding": {"y": {"datum": 0, "axis": null}}},
   {"data": {"values": [{}]}, "mark": {"type": "text", "fontSize": 10, "fontWeight": "bold"}, "encoding": {"x": {"datum": 4, "axis": null}, "y": {"datum": 620, "axis": null}, "text": {"value": "c"}}}
  ],
  "resolve": {"axis": {"x": "independent", "y": "independent"}}},
 {"width": 73, "height": 71, "title": "000115",
  "layer": [
   {"data": {"name": "g"}, "mark": {"type": "line", "color": "black", "strokeWidth": 1, "clip": true},
    "encoding": {
     "x": {"field": "t", "type": "quantitative", "scale": {"domain": [-1, 16.1], "nice": false, "zero": false}, "axis": {"values": [0,1,2,3,4,5,6,7,8,9,10,11,12,13,14,15,16], "labelExpr": "datum.value%5==0?datum.label:''", "title": "T-T₀,s", "titleY": 3, "titleX": 36, "titleFontSize": 5, "titleBaseline": "top"}},
     "y": {"field": "c", "type": "quantitative", "scale": {"domain": [-14, 235], "nice": false, "zero": false}, "axis": {"values": [0,50,100,150,200], "labelExpr": "datum.value==0||datum.value==200?format(datum.value,'d'):''", "title": "Counts/16ms"}}}},
   {"data": {"name": "g"}, "mark": {"type": "point", "opacity": 0},
    "encoding": {
     "x": {"field": "t", "type": "quantitative", "axis": {"orient": "top", "labels": false, "title": null, "values": [0,1,2,3,4,5,6,7,8,9,10,11,12,13,14,15,16]}},
     "y": {"field": "c", "type": "quantitative", "axis": {"orient": "right", "labels": false, "title": null, "values": [0,50,100,150,200]}}}},
   {"data": {"values": [{}]}, "mark": {"type": "rule", "color": "black", "strokeWidth": 0.8}, "encoding": {"y": {"datum": 0, "axis": null}}},
   {"data": {"values": [{}]}, "mark": {"type": "text", "fontSize": 10, "fontWeight": "bold"}, "encoding": {"x": {"datum": 0.7, "axis": null}, "y": {"datum": 200, "axis": null}, "text": {"value": "g"}}}
  ],
  "resolve": {"axis": {"x": "independent", "y": "independent"}}},
 {"width": 73, "height": 71, "title": "SGR1627-41 980618c",
  "layer": [
   {"data": {"name": "k"}, "mark": {"type": "line", "color": "black", "strokeWidth": 1, "clip": true},
    "encoding": {
     "x": {"field": "t", "type": "quantitative", "scale": {"domain": [-0.0207, 0.281], "nice": false, "zero": false}, "axis": {"values": [-0.02,-0.01,0,0.01,0.02,0.03,0.04,0.05,0.06,0.07,0.08,0.09,0.1,0.11,0.12,0.13,0.14,0.15,0.16,0.17,0.18,0.19,0.2,0.21,0.22,0.23,0.24,0.25,0.26,0.27,0.28], "labelExpr": "abs(datum.value)<1e-6||abs(datum.value-0.1)<1e-6||abs(datum.value-0.2)<1e-6?format(datum.value,'.1f'):''", "title": "T-T₀,s", "titleY": 3, "titleX": 41, "titleFontSize": 5, "titleBaseline": "top"}},
     "y": {"field": "c", "type": "quantitative", "scale": {"domain": [-14, 605], "nice": false, "zero": false}, "axis": {"values": [0,100,200,300,400,500,600], "labelExpr": "datum.value==0||datum.value==500?format(datum.value,'d'):''", "title": "Counts/2ms"}}}},
   {"data": {"name": "k"}, "mark": {"type": "point", "opacity": 0},
    "encoding": {
     "x": {"field": "t", "type": "quantitative", "axis": {"orient": "top", "labels": false, "title": null, "values": [-0.02,-0.01,0,0.01,0.02,0.03,0.04,0.05,0.06,0.07,0.08,0.09,0.1,0.11,0.12,0.13,0.14,0.15,0.16,0.17,0.18,0.19,0.2,0.21,0.22,0.23,0.24,0.25,0.26,0.27,0.28]}},
     "y": {"field": "c", "type": "quantitative", "axis": {"orient": "right", "labels": false, "title": null, "values": [0,100,200,300,400,500,600]}}}},
   {"data": {"values": [{}]}, "mark": {"type": "rule", "color": "black", "strokeWidth": 0.8}, "encoding": {"y": {"datum": 0, "axis": null}}},
   {"data": {"values": [{}]}, "mark": {"type": "text", "fontSize": 10, "fontWeight": "bold"}, "encoding": {"x": {"datum": 0.012, "axis": null}, "y": {"datum": 510, "axis": null}, "text": {"value": "k"}}}
  ],
  "resolve": {"axis": {"x": "independent", "y": "independent"}}},
 {"width": 73, "height": 13, "data": {"values": []}, "mark": {"type": "point", "opacity": 0}, "view": {"stroke": null}},
 {"width": 73, "height": 13, "data": {"values": []}, "mark": {"type": "point", "opacity": 0}, "view": {"stroke": null}},
 {"width": 73, "height": 13, "data": {"values": []}, "mark": {"type": "point", "opacity": 0}, "view": {"stroke": null}},
 {"width": 73, "height": 69,
  "layer": [
   {"data": {"name": "dL"}, "mark": {"type": "line", "color": "black", "strokeWidth": 1.5, "clip": true},
    "encoding": {
     "x": {"field": "ep", "type": "quantitative", "scale": {"type": "log", "domain": [10, 3000], "nice": false}, "axis": {"values": [10,20,30,40,50,60,70,80,90,100,200,300,400,500,600,700,800,900,1000,2000,3000], "labelExpr": "abs(log(datum.value)/LN10-round(log(datum.value)/LN10))<0.01?'10'+replace(replace(replace(replace(replace(replace(replace(replace(replace(''+round(log(datum.value)/LN10),'-','⁻'),'1','¹'),'2','²'),'3','³'),'4','⁴'),'5','⁵'),'6','⁶'),'7','⁷'),'8','⁸'):''", "title": "Ep,keV", "titleY": 6, "titleBaseline": "top"}},
     "y": {"field": "f", "type": "quantitative", "scale": {"type": "log", "domain": [1e-7, 5e-5], "nice": false}, "axis": {"values": [1e-7,2e-7,3e-7,4e-7,5e-7,6e-7,7e-7,8e-7,9e-7,1e-6,2e-6,3e-6,4e-6,5e-6,6e-6,7e-6,8e-6,9e-6,1e-5,2e-5,3e-5,4e-5], "labelFlush": true, "labelExpr": "abs(log(datum.value)/LN10-round(log(datum.value)/LN10))<0.01?'10'+replace(replace(replace(replace(replace(replace(replace(replace(replace(''+round(log(datum.value)/LN10),'-','⁻'),'1','¹'),'2','²'),'3','³'),'4','⁴'),'5','⁵'),'6','⁶'),'7','⁷'),'8','⁸'):''", "title": "F, erg s⁻¹ cm⁻²"}},
     "detail": {"field": "seg"}, "order": {"field": "o"}}},
   {"data": {"name": "dL"}, "mark": {"type": "point", "opacity": 0},
    "encoding": {
     "x": {"field": "ep", "type": "quantitative", "axis": {"orient": "top", "labels": false, "title": null, "values": [10,20,30,40,50,60,70,80,90,100,200,300,400,500,600,700,800,900,1000,2000,3000]}},
     "y": {"field": "f", "type": "quantitative", "axis": {"orient": "right", "labels": false, "title": null, "values": [1e-7,2e-7,3e-7,4e-7,5e-7,6e-7,7e-7,8e-7,9e-7,1e-6,2e-6,3e-6,4e-6,5e-6,6e-6,7e-6,8e-6,9e-6,1e-5,2e-5,3e-5,4e-5]}}}},
   {"data": {"name": "dA"}, "mark": {"type": "rule", "color": "black", "strokeWidth": 0.8}, "encoding": {"x": {"field": "ep", "type": "quantitative", "axis": null}, "y": {"field": "f", "type": "quantitative", "axis": null}, "x2": {"field": "ep2"}, "y2": {"field": "f2"}}},
   {"data": {"name": "dA"}, "transform": [{"calculate": "(atan2(-(log(datum.f2)-log(datum.f))*25.57, (log(datum.ep2)-log(datum.ep))*29.47)*180/PI+360)%360", "as": "ang"}], "mark": {"type": "point", "shape": "triangle-right", "filled": true, "color": "black", "opacity": 1, "size": 10}, "encoding": {"x": {"field": "ep2", "type": "quantitative", "axis": null}, "y": {"field": "f2", "type": "quantitative", "axis": null}, "angle": {"field": "ang", "type": "quantitative", "scale": null}}},
   {"data": {"name": "dN"}, "mark": {"type": "text", "fontSize": 5}, "encoding": {"x": {"field": "ep", "type": "quantitative", "axis": null}, "y": {"field": "f", "type": "quantitative", "axis": null}, "text": {"field": "label"}}},
   {"data": {"values": [{}]}, "mark": {"type": "text", "fontSize": 10, "fontWeight": "bold"}, "encoding": {"x": {"datum": 19, "axis": null}, "y": {"datum": 3.1e-5, "axis": null}, "text": {"value": "d"}}}
  ],
  "resolve": {"axis": {"x": "independent", "y": "independent"}}},
 {"width": 73, "height": 69,
  "layer": [
   {"data": {"name": "hL"}, "mark": {"type": "line", "strokeWidth": 1, "clip": true},
    "encoding": {
     "x": {"field": "ep", "type": "quantitative", "scale": {"type": "log", "domain": [5.5, 60], "nice": false}, "axis": {"values": [6,7,8,9,10,20,30,40,50,60], "labelExpr": "abs(log(datum.value)/LN10-round(log(datum.value)/LN10))<0.01?'10'+replace(replace(replace(replace(replace(replace(replace(replace(replace(''+round(log(datum.value)/LN10),'-','⁻'),'1','¹'),'2','²'),'3','³'),'4','⁴'),'5','⁵'),'6','⁶'),'7','⁷'),'8','⁸'):''", "title": "Ep,keV", "titleY": 11, "titleBaseline": "top"}},
     "y": {"field": "f", "type": "quantitative", "scale": {"type": "log", "domain": [6.9e-7, 3.6e-5], "nice": false}, "axis": {"values": [7e-7,8e-7,9e-7,1e-6,2e-6,3e-6,4e-6,5e-6,6e-6,7e-6,8e-6,9e-6,1e-5,2e-5,3e-5], "labelFlush": true, "labelExpr": "abs(log(datum.value)/LN10-round(log(datum.value)/LN10))<0.01?'10'+replace(replace(replace(replace(replace(replace(replace(replace(replace(''+round(log(datum.value)/LN10),'-','⁻'),'1','¹'),'2','²'),'3','³'),'4','⁴'),'5','⁵'),'6','⁶'),'7','⁷'),'8','⁸'):''", "title": "F, erg s⁻¹ cm⁻²"}},
     "color": {"field": "seg", "type": "nominal", "scale": {"domain": ["r1", "r2", "k"], "range": ["#ff2a2a", "#ff2a2a", "#000000"]}, "legend": null},
     "detail": {"field": "seg"}, "order": {"field": "o"}}},
   {"data": {"name": "hL"}, "mark": {"type": "point", "opacity": 0},
    "encoding": {
     "x": {"field": "ep", "type": "quantitative", "axis": {"orient": "top", "labels": false, "title": null, "values": [6,7,8,9,10,20,30,40,50,60]}},
     "y": {"field": "f", "type": "quantitative", "axis": {"orient": "right", "labels": false, "title": null, "values": [7e-7,8e-7,9e-7,1e-6,2e-6,3e-6,4e-6,5e-6,6e-6,7e-6,8e-6,9e-6,1e-5,2e-5,3e-5]}}}},
   {"data": {"name": "hN"}, "mark": {"type": "text", "fontSize": 5}, "encoding": {"x": {"field": "ep", "type": "quantitative", "axis": null}, "y": {"field": "f", "type": "quantitative", "axis": null}, "text": {"field": "label"}}},
   {"data": {"values": [{}]}, "mark": {"type": "text", "fontSize": 10, "fontWeight": "bold"}, "encoding": {"x": {"datum": 7.0, "axis": null}, "y": {"datum": 1.5e-5, "axis": null}, "text": {"value": "h"}}}
  ],
  "resolve": {"axis": {"x": "independent", "y": "independent"}}},
 {"width": 73, "height": 69,
  "layer": [
   {"data": {"name": "lL"}, "mark": {"type": "line", "color": "black", "strokeWidth": 0.9, "clip": true},
    "encoding": {
     "x": {"field": "ep", "type": "quantitative", "scale": {"type": "log", "domain": [100, 1000], "nice": false}, "axis": {"values": [100,200,300,400,500,600,700,800,900,1000], "labelExpr": "datum.value==1000?'10³':''", "title": "Ep,keV", "titleY": 6, "titleBaseline": "top"}},
     "y": {"field": "f", "type": "quantitative", "scale": {"type": "log", "domain": [2.6e-7, 2.3e-5], "nice": false}, "axis": {"values": [3e-7,4e-7,5e-7,6e-7,7e-7,8e-7,9e-7,1e-6,2e-6,3e-6,4e-6,5e-6,6e-6,7e-6,8e-6,9e-6,1e-5,2e-5], "labelFlush": true, "labelExpr": "abs(log(datum.value)/LN10-round(log(datum.value)/LN10))<0.01?'10'+replace(replace(replace(replace(replace(replace(replace(replace(replace(''+round(log(datum.value)/LN10),'-','⁻'),'1','¹'),'2','²'),'3','³'),'4','⁴'),'5','⁵'),'6','⁶'),'7','⁷'),'8','⁸'):''", "title": "F, erg s⁻¹ cm⁻²"}},
     "detail": {"field": "seg"}, "order": {"field": "o"}}},
   {"data": {"name": "lL"}, "mark": {"type": "point", "opacity": 0},
    "encoding": {
     "x": {"field": "ep", "type": "quantitative", "axis": {"orient": "top", "labels": false, "title": null, "values": [100,200,300,400,500,600,700,800,900,1000]}},
     "y": {"field": "f", "type": "quantitative", "axis": {"orient": "right", "labels": false, "title": null, "values": [3e-7,4e-7,5e-7,6e-7,7e-7,8e-7,9e-7,1e-6,2e-6,3e-6,4e-6,5e-6,6e-6,7e-6,8e-6,9e-6,1e-5,2e-5]}}}},
   {"data": {"name": "lA"}, "mark": {"type": "rule", "color": "black", "strokeWidth": 0.8}, "encoding": {"x": {"field": "ep", "type": "quantitative", "axis": null}, "y": {"field": "f", "type": "quantitative", "axis": null}, "x2": {"field": "ep2"}, "y2": {"field": "f2"}}},
   {"data": {"name": "lA"}, "transform": [{"calculate": "(atan2(-(log(datum.f2)-log(datum.f))*35.44, (log(datum.ep2)-log(datum.ep))*73)*180/PI+360)%360", "as": "ang"}], "mark": {"type": "point", "shape": "triangle-right", "filled": true, "color": "black", "opacity": 1, "size": 10}, "encoding": {"x": {"field": "ep2", "type": "quantitative", "axis": null}, "y": {"field": "f2", "type": "quantitative", "axis": null}, "angle": {"field": "ang", "type": "quantitative", "scale": null}}},
   {"data": {"name": "lN"}, "mark": {"type": "text", "fontSize": 5}, "encoding": {"x": {"field": "ep", "type": "quantitative", "axis": null}, "y": {"field": "f", "type": "quantitative", "axis": null}, "text": {"field": "label"}}},
   {"data": {"values": [{}]}, "mark": {"type": "text", "fontSize": 10, "fontWeight": "bold"}, "encoding": {"x": {"datum": 130, "axis": null}, "y": {"datum": 9.9e-6, "axis": null}, "text": {"value": "l"}}}
  ],
  "resolve": {"axis": {"x": "independent", "y": "independent"}}}
]
}
